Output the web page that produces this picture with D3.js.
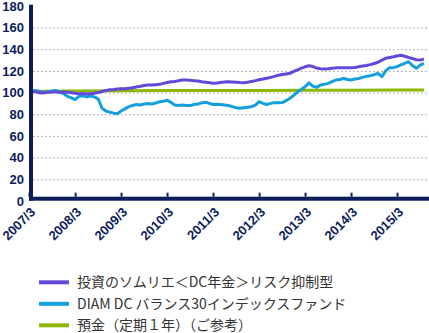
<!DOCTYPE html>
<html><head><meta charset="utf-8">
<script src="https://cdn.jsdelivr.net/npm/d3@7"></script>
<style>body{margin:0;background:#fff}svg{display:block}</style>
</head><body>
<svg id="c" width="429" height="333"></svg>
<script>
// Monthly values from 2007/4 to 2015/10
const startMonth = "2007-04";
const purple = [101.0,100.5,99.6,99.8,100.3,100.5,100.6,100.3,100.5,100.2,99.8,99.3,99.0,99.2,98.8,99.0,99.3,100.0,101.0,102.0,102.5,102.8,103.2,103.5,103.5,103.9,104.5,105.2,105.8,106.5,107.0,107.0,107.3,107.6,108.5,109.3,110.0,110.3,111.0,111.5,111.6,111.3,111.0,110.7,110.0,109.5,109.0,108.6,108.8,109.3,109.7,110.0,109.8,109.5,109.2,109.0,109.5,110.3,111.0,111.8,112.6,113.2,114.0,115.0,116.0,116.6,117.2,117.8,119.5,121.0,122.5,123.8,124.8,124.0,122.6,122.0,121.8,122.0,122.4,122.8,123.0,123.0,122.8,123.0,123.2,123.8,124.5,125.0,125.8,126.8,128.0,130.0,131.6,132.3,133.0,133.8,134.5,133.5,132.4,131.5,130.3,130.0,131.0];
const blue = [102.0,101.5,101.0,100.0,100.8,101.5,101.8,100.5,99.0,96.5,95.0,93.5,96.5,97.0,96.0,96.8,96.0,94.0,85.5,83.0,82.0,81.0,80.5,83.0,85.0,87.0,88.0,89.0,88.5,89.5,90.0,89.5,90.3,91.5,92.0,93.0,91.0,88.5,88.0,88.5,88.0,88.0,89.0,89.5,90.5,91.0,90.0,89.0,89.3,89.0,88.5,88.0,87.0,86.0,85.5,86.0,86.5,87.0,88.5,91.6,90.0,89.0,90.0,90.7,90.5,90.8,92.5,94.7,97.5,100.5,103.0,105.4,109.0,106.0,104.8,107.0,107.6,108.5,110.0,111.6,112.0,113.0,112.0,111.6,112.5,113.0,114.0,115.0,115.6,116.5,117.8,114.7,120.0,123.0,123.0,124.0,125.5,127.0,128.5,125.0,122.4,125.4,127.0];
const depositDates = ["2007-04","2008-03","2009-03","2010-03","2011-03","2012-03","2013-03","2014-03","2015-03","2015-10"];
const deposit = [101.3,101.5,101.7,101.8,101.9,102.0,102.1,102.2,102.3,102.4];
const yTicks = [0,20,40,60,80,100,120,140,160,180];
const xTickLabels = ["2007/3","2008/3","2009/3","2010/3","2011/3","2012/3","2013/3","2014/3","2015/3"];
const legendLabels = ["投資のソムリエ＜DC年金＞リスク抑制型","DIAM DC バランス30インデックスファンド","預金（定期１年）（ご参考）"];
const colors = ["#6548d8","#159fdd","#8cb800"];

const navy = "#0c1d5c";
const parseM = d3.timeParse("%Y-%m");
const p = d => parseM(d.replace("/", "-"));
const months = d3.timeMonth.range(parseM(startMonth), d3.timeMonth.offset(parseM(startMonth), purple.length));

const svg = d3.select("#c");
const x = d3.scaleTime().domain([p("2007/3"), p("2015/3")]).range([29, 397]);
const y = d3.scaleLinear().domain([0, 180]).range([200.9, 5.9]);

// gridlines
svg.append("g").selectAll("line").data(yTicks.filter(v => v > 0 && v < 180)).join("line")
  .attr("x1", 33).attr("x2", 429).attr("y1", d => y(d)+0.5).attr("y2", d => y(d)+0.5)
  .attr("stroke", "#9a9a9a").attr("stroke-width", 1).attr("stroke-dasharray", "1.5,2.5");

// series
const line = d3.line().x(d => x(d[0])).y(d => y(d[1]));
svg.append("path").datum(depositDates.map((d,i)=>[p(d), deposit[i]])).attr("d", line)
  .attr("fill","none").attr("stroke", colors[2]).attr("stroke-width", 3);
svg.append("path").datum(months.map((d,i)=>[d, blue[i]])).attr("d", line)
  .attr("fill","none").attr("stroke", colors[1]).attr("stroke-width", 3).attr("stroke-linejoin","round");
svg.append("path").datum(months.map((d,i)=>[d, purple[i]])).attr("d", line)
  .attr("fill","none").attr("stroke", colors[0]).attr("stroke-width", 3).attr("stroke-linejoin","round");

// axes
const xAxis = svg.append("g").attr("transform", "translate(0,196.7)")
  .call(d3.axisTop(x).tickValues(xTickLabels.map(p)).tickSize(4).tickFormat(""));
xAxis.select(".domain").remove();
xAxis.selectAll(".tick line").attr("stroke", navy).attr("stroke-width", 2);
svg.append("rect").attr("x", 29).attr("y", 196.7).attr("width", 400).attr("height", 4).attr("fill", navy);
svg.append("rect").attr("x", 29).attr("y", 4.7).attr("width", 4).attr("height", 196).attr("fill", navy);

svg.append("g").selectAll("text").data(xTickLabels).join("text")
  .attr("transform", d => `translate(${x(p(d))+7},213) rotate(-45)`)
  .attr("text-anchor", "end")
  .attr("font-family", "Liberation Sans, Arial, sans-serif").attr("font-weight", "bold")
  .attr("font-size", 13).attr("fill", navy).text(d => d);

const yAxis = svg.append("g").attr("transform", "translate(24,0)")
  .call(d3.axisLeft(y).tickValues(yTicks).tickSize(0).tickPadding(0));
yAxis.select(".domain").remove();
yAxis.selectAll("text").attr("font-family", "Liberation Sans, Arial, sans-serif")
  .attr("font-weight", "bold").attr("font-size", 13).attr("fill", navy);

// legend
const lg = svg.append("g").selectAll("g").data(legendLabels).join("g")
  .attr("transform", (d,i) => `translate(0,${282.3 + i*21.5})`);
lg.append("line").attr("x1", 39).attr("x2", 69).attr("stroke", (d,i)=>colors[i]).attr("stroke-width", 4);
lg.append("text").attr("x", 77).attr("y", 5).attr("font-family", "Noto Sans CJK JP, sans-serif")
  .attr("font-size", 14).attr("fill", "#333").text(d => d);
</script>
</body></html>
